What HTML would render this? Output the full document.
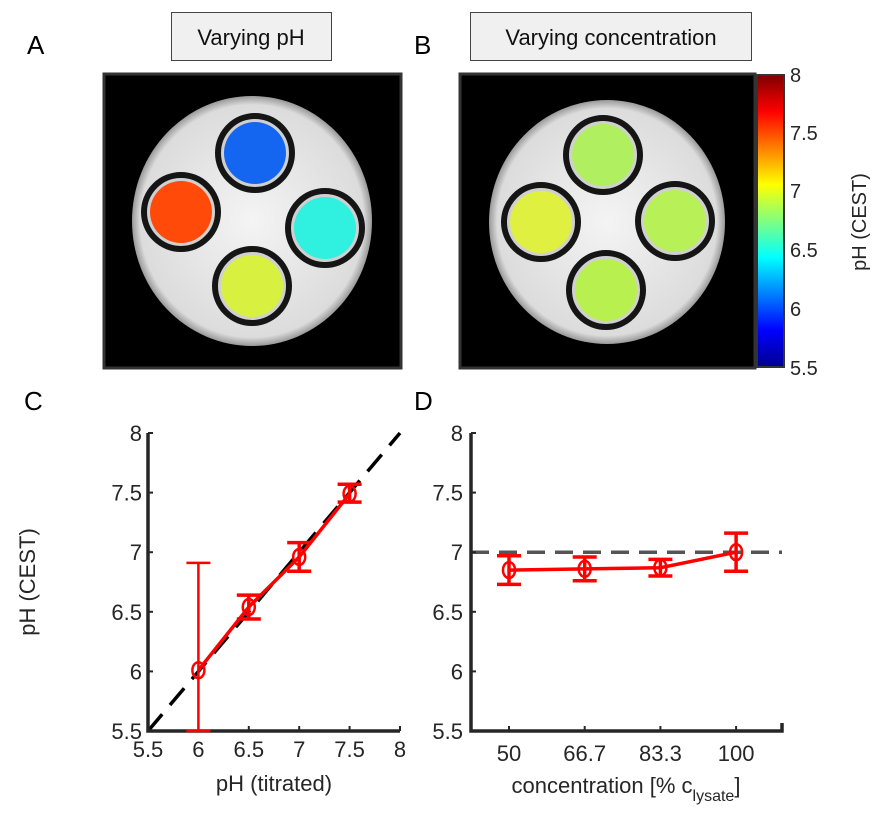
<!DOCTYPE html>
<html><head><meta charset="utf-8"><style>
body{margin:0;background:#fff;}
svg{display:block;font-family:"Liberation Sans",sans-serif;}
</style></head><body>
<svg width="886" height="821" viewBox="0 0 886 821">
<defs>
<linearGradient id="jet" x1="0" y1="1" x2="0" y2="0">
<stop offset="0" stop-color="#00008f"/><stop offset="0.125" stop-color="#0000ff"/>
<stop offset="0.375" stop-color="#00ffff"/><stop offset="0.625" stop-color="#ffff00"/>
<stop offset="0.875" stop-color="#ff0000"/><stop offset="1" stop-color="#800000"/>
</linearGradient>
<radialGradient id="disk" cx="0.5" cy="0.5" r="0.5">
<stop offset="0" stop-color="#f4f4f4"/><stop offset="0.93" stop-color="#dcdcdc"/><stop offset="1" stop-color="#999"/>
</radialGradient>
</defs>
<text x="27" y="54" font-size="26" fill="#000">A</text>
<text x="414" y="54" font-size="26" fill="#000">B</text>
<text x="24" y="410" font-size="26" fill="#000">C</text>
<text x="414" y="410" font-size="26" fill="#000">D</text>
<g><rect x="171.5" y="12.5" width="160" height="48" fill="#f0f0f0" stroke="#444"/>
<text x="251" y="45" font-size="22" text-anchor="middle" fill="#111">Varying pH</text></g>
<g><rect x="470.5" y="12.5" width="281" height="48" fill="#f0f0f0" stroke="#444"/>
<text x="611" y="45" font-size="22" text-anchor="middle" fill="#111">Varying concentration</text></g>
<g id="imgA">
<rect x="104" y="74" width="297" height="294" fill="#000" stroke="#333" stroke-width="3"/>
<ellipse cx="252" cy="221" rx="120" ry="125" fill="url(#disk)"/>
</g>
<g id="imgB">
<rect x="460" y="74" width="295" height="294" fill="#000" stroke="#333" stroke-width="3"/>
<ellipse cx="607" cy="222" rx="118" ry="122" fill="url(#disk)"/>
</g>
<g>
<rect x="757" y="75" width="27" height="292" fill="url(#jet)" stroke="#333" stroke-width="2"/>
<g font-size="20" fill="#262626">
<text x="790" y="82">8</text><text x="790" y="140">7.5</text><text x="790" y="198">7</text>
<text x="790" y="257">6.5</text><text x="790" y="316">6</text><text x="790" y="375">5.5</text></g>
<text transform="translate(866,222) rotate(-90)" font-size="20" fill="#262626" text-anchor="middle">pH (CEST)</text>
</g>
<g id="chartC"></g>
<g id="chartD"></g>
</svg>
<script>
const phTitrated=[6,6.5,7,7.5];
const phCestC=[6.01,6.54,6.96,7.49];
const errUpC=[0.90,0.10,0.12,0.08];
const errDnC=[0.51,0.10,0.12,0.07];
const concCats=["50","66.7","83.3","100"];
const phCestD=[6.85,6.86,6.87,7.0];
const errD=[0.12,0.10,0.07,0.16];
const yTicks=[5.5,6,6.5,7,7.5,8];
const xTicksC=[5.5,6,6.5,7,7.5,8];
const tubesA=[{x:255,y:153,c:"#1466f0"},{x:181,y:212,c:"#ff4a0a"},{x:325,y:228,c:"#30f0e0"},{x:252,y:286,c:"#d8f040"}];
const tubesB=[{x:603,y:155,c:"#b0f060"},{x:541,y:222,c:"#e0f040"},{x:675,y:221,c:"#b8f058"},{x:606,y:290,c:"#b8f050"}];
const NS="http://www.w3.org/2000/svg";
function mk(p,t,a){const e=document.createElementNS(NS,t);for(const k in a)e.setAttribute(k,a[k]);p.appendChild(e);return e;}
function tubes(gid,list){const g=document.getElementById(gid);
 list.forEach((t,i)=>{const r=mk(g,'circle',{cx:t.x,cy:t.y,r:37,fill:'#d0d0d0',stroke:'#151515','stroke-width':6});
 
 
 const c=mk(g,'circle',{cx:t.x,cy:t.y,r:31,fill:t.c});
 
 });}
tubes('imgA',tubesA);tubes('imgB',tubesB);
function yAx(v,t,b){return b-(v-5.5)/2.5*(b-t);}
// Chart C
(function(){const g=document.getElementById('chartC');const L=148,R=400,T=433,B=731;
 const X=v=>L+(v-5.5)/2.5*(R-L),Y=v=>yAx(v,T,B);
 mk(g,'line',{x1:X(5.5),y1:Y(5.5),x2:X(8),y2:Y(8),stroke:'#000','stroke-width':3.5,'stroke-dasharray':'22,12'});
 mk(g,'path',{d:`M${L},${T} V${B} H${R}`,fill:'none',stroke:'#262626','stroke-width':3.5});
 yTicks.forEach(v=>{mk(g,'line',{x1:L,x2:L+5,y1:Y(v),y2:Y(v),stroke:'#262626','stroke-width':2});
  const t=mk(g,'text',{x:L-6,y:Y(v)+8,'text-anchor':'end','font-size':22,fill:'#262626'});t.textContent=v;
  
  });
 xTicksC.forEach(v=>{mk(g,'line',{x1:X(v),x2:X(v),y1:B,y2:B-5,stroke:'#262626','stroke-width':2});
  const t=mk(g,'text',{x:X(v),y:B+26,'text-anchor':'middle','font-size':22,fill:'#262626'});t.textContent=v;
  
  });
 const xl=mk(g,'text',{x:(L+R)/2,y:791,'text-anchor':'middle','font-size':22,fill:'#262626'});xl.textContent='pH (titrated)';
 
 
 const yl=mk(g,'text',{transform:`translate(35,${(T+B)/2}) rotate(-90)`,'text-anchor':'middle','font-size':22,fill:'#262626'});yl.textContent='pH (CEST)';
 
 
 mk(g,'polyline',{points:phTitrated.map((x,i)=>X(x)+','+Y(phCestC[i])).join(' '),fill:'none',stroke:'#f00','stroke-width':3.5});
 phTitrated.forEach((x,i)=>{const cx=X(x),y=phCestC[i];const w=i==0?2.5:3.5;
  const e=mk(g,'path',{d:`M${cx},${Y(y+errUpC[i])}V${Y(y-errDnC[i])}M${cx-12},${Y(y+errUpC[i])}h24M${cx-12},${Y(y-errDnC[i])}h24`,stroke:'#f00','stroke-width':w,fill:'none'});
  
  
  const m=mk(g,'ellipse',{cx:cx,cy:Y(y),rx:6,ry:8,fill:'none',stroke:'#f00','stroke-width':2.5});
  
  });
})();
// Chart D
(function(){const g=document.getElementById('chartD');const L=471,R=782,T=433,B=731;
 const X=i=>509+i*75.7,Y=v=>yAx(v,T,B);
 mk(g,'line',{x1:L,x2:R,y1:Y(7),y2:Y(7),stroke:'#555','stroke-width':3.5,'stroke-dasharray':'18,10'});
 mk(g,'path',{d:`M${L},${T} V${B} H${R} v-8`,fill:'none',stroke:'#262626','stroke-width':3.5});
 yTicks.forEach(v=>{mk(g,'line',{x1:L,x2:L+5,y1:Y(v),y2:Y(v),stroke:'#262626','stroke-width':2});
  const t=mk(g,'text',{x:L-8,y:Y(v)+8,'text-anchor':'end','font-size':22,fill:'#262626'});t.textContent=v;
  
  });
 concCats.forEach((c,i)=>{mk(g,'line',{x1:X(i),x2:X(i),y1:B,y2:B-5,stroke:'#262626','stroke-width':2});
  const t=mk(g,'text',{x:X(i),y:B+30,'text-anchor':'middle','font-size':22,fill:'#262626'});t.textContent=c;
  
  });
 const xl=mk(g,'text',{x:626,y:793,'text-anchor':'middle','font-size':22,fill:'#262626'});
 xl.innerHTML='concentration [% c<tspan font-size="16" dy="8">lysate</tspan><tspan dy="-8">]</tspan>';
 
 
 mk(g,'polyline',{points:phCestD.map((v,i)=>X(i)+','+Y(v)).join(' '),fill:'none',stroke:'#f00','stroke-width':3.5});
 phCestD.forEach((v,i)=>{const cx=X(i);
  const e=mk(g,'path',{d:`M${cx},${Y(v+errD[i])}V${Y(v-errD[i])}M${cx-12},${Y(v+errD[i])}h24M${cx-12},${Y(v-errD[i])}h24`,stroke:'#f00','stroke-width':3.5,fill:'none'});
  
  
  const m=mk(g,'ellipse',{cx:cx,cy:Y(v),rx:6,ry:8,fill:'none',stroke:'#f00','stroke-width':2.5});
  
  });
})();
</script>
</body></html>
